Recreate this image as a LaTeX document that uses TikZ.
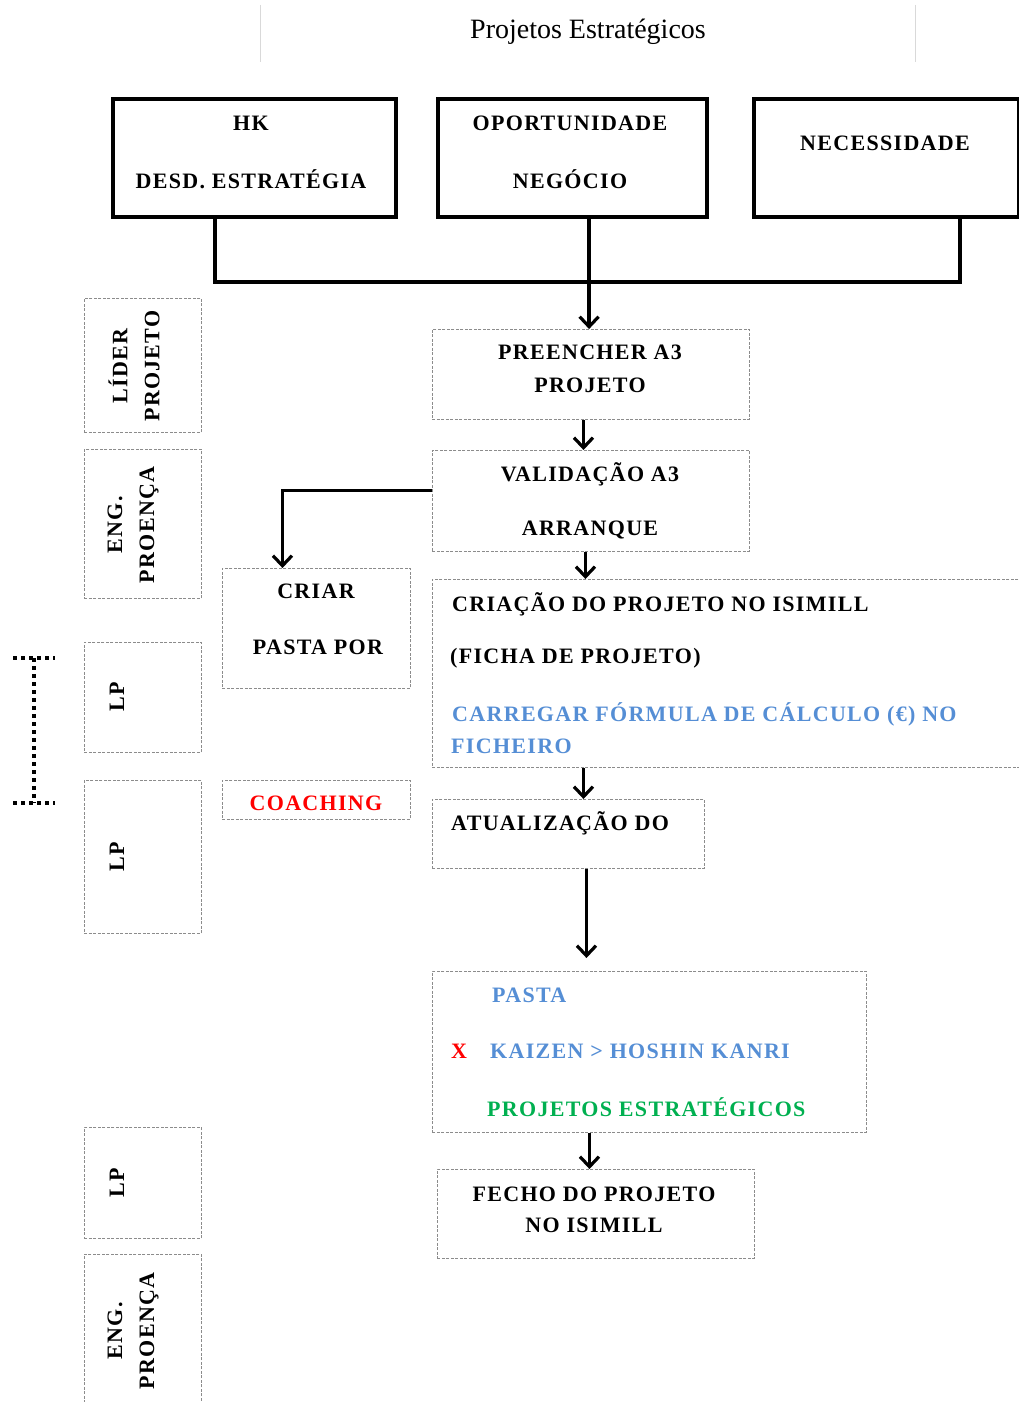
\documentclass[tikz,border=0pt]{standalone}
\usepackage{fontspec}
\setmainfont{Liberation Serif}
\newfontfamily\bxfont{Liberation Serif}[LetterSpace=6]
\usetikzlibrary{arrows.meta,calc}
\definecolor{myblue}{HTML}{558ED5}
\definecolor{mygreen}{HTML}{00B050}
\definecolor{myred}{HTML}{FF0000}
\tikzset{
  thickbox/.style={draw=black, line width=4.2pt, anchor=north west, inner sep=0pt},
  thinbox/.style={draw=black!45, line width=0.9pt, dash pattern=on 3pt off 1.5pt, anchor=north west, inner sep=0pt},
  txt/.style={font=\bxfont\bfseries\fontsize{22}{32}\selectfont, inner sep=0pt, text=black},
  rtxt/.style={txt, rotate=90, align=center},
  conn/.style={line width=3.6pt, draw=black},
  arr/.style={conn, -{Straight Barb[length=10pt,width=19pt,line width=3.2pt]}},
  sep/.style={draw=black!15, line width=1pt},
  dots/.style={line width=4pt, dash pattern=on 3.5pt off 4.5pt}
}
\begin{document}
\begin{tikzpicture}[x=1pt,y=-1pt]
\useasboundingbox (0,0) rectangle (1019,1402);
\fill[white] (0,0) rectangle (1019,1402);
% header
\draw[sep] (260,5) -- (260,62);
\draw[sep] (915,5) -- (915,62);
\node[font=\fontsize{28}{32}\selectfont, inner sep=0pt] (title) at (588,32) {Projetos Estratégicos};

% top thick boxes
\node[thickbox, minimum width=283pt, minimum height=118pt] (hk) at (111,97) {};
\node[thickbox, minimum width=269pt, minimum height=118pt] (oport) at (436,97) {};
\node[thickbox, minimum width=265pt, minimum height=118pt] (nec) at (752,97) {};
\node[txt] (hk1) at (251,123) {HK};
\node[txt] (hk2) at (251,179) {DESD. ESTRATÉGIA};
\node[txt] (op1) at (570,123) {OPORTUNIDADE};
\node[txt] (op2) at (570,179) {NEGÓCIO};
\node[txt] (nec1) at (885,143) {NECESSIDADE};

% left role boxes
\node[thinbox, minimum width=117pt, minimum height=134pt] (r1) at (84,298) {};
\node[thinbox, minimum width=117pt, minimum height=149pt] (r2) at (84,449) {};
\node[thinbox, minimum width=117pt, minimum height=110pt] (r3) at (84,642) {};
\node[thinbox, minimum width=117pt, minimum height=153pt] (r4) at (84,780) {};
\node[thinbox, minimum width=117pt, minimum height=111pt] (r5) at (84,1127) {};
\node[thinbox, minimum width=117pt, minimum height=160pt] (r6) at (84,1254) {};
\node[rtxt] (r1t) at (134,366) {LÍDER\\PROJETO};
\node[rtxt] (r2t) at (133,525) {ENG.\\PROENÇA};
\node[rtxt] (r3t) at (117,697) {LP};
\node[rtxt] (r4t) at (117,857) {LP};
\node[rtxt] (r5t) at (117,1183) {LP};
\node[rtxt] (r6t) at (133,1331) {ENG.\\PROENÇA};

% dotted bracket
\coordinate (bt1) at (13,658);
\coordinate (bt2) at (55,658);
\coordinate (bb1) at (13,803);
\coordinate (bb2) at (55,803);
\coordinate (btm) at (34,658);
\coordinate (bbm) at (34,803);
\draw[dots] (bt1) -- (bt2);
\draw[dots] (bb1) -- (bb2);
\draw[dots] (btm) -- (bbm);

% flow boxes
\node[thinbox, minimum width=317pt, minimum height=90pt] (pre) at (432,329) {};
\node[txt] (pre1) at (590,352) {PREENCHER A3};
\node[txt] (pre2) at (590,385) {PROJETO};

\node[thinbox, minimum width=317pt, minimum height=101pt] (val) at (432,450) {};
\node[txt] (val1) at (590,474) {VALIDAÇÃO A3};
\node[txt] (val2) at (590,530) {ARRANQUE};

\node[thinbox, minimum width=188pt, minimum height=120pt] (cri) at (222,568) {};
\node[txt] (cri1) at (316,591) {CRIAR};
\node[txt] (cri2) at (318,647) {PASTA POR};

\node[thinbox, minimum width=595pt, minimum height=188pt] (crp) at (432,579) {};
\node[txt, anchor=west] (crp1) at (452,604) {CRIAÇÃO DO PROJETO NO ISIMILL};
\node[txt, anchor=west] (crp2) at (450,658) {(FICHA DE PROJETO)};
\node[txt, anchor=west, text=myblue] (crp3) at (452,714) {CARREGAR FÓRMULA DE CÁLCULO (€) NO};
\node[txt, anchor=west, text=myblue] (crp4) at (451,746) {FICHEIRO};

\node[thinbox, minimum width=188pt, minimum height=39pt] (coa) at (222,780) {};
\node[txt, text=myred] (coa1) at (316,803) {COACHING};

\node[thinbox, minimum width=272pt, minimum height=69pt] (atu) at (432,799) {};
\node[txt, anchor=west] (atu1) at (451,823) {ATUALIZAÇÃO DO};

\node[thinbox, minimum width=434pt, minimum height=161pt] (pas) at (432,971) {};
\node[txt, anchor=west, text=myblue] (pas1) at (492,995) {PASTA};
\node[txt, text=myred] (pas2) at (459,1051) {X};
\node[txt, anchor=west, text=myblue] (pas3) at (490,1051) {KAIZEN > HOSHIN KANRI};
\node[txt, anchor=west, text=mygreen] (pas4) at (487,1107) {PROJETOS ESTRATÉGICOS};

\node[thinbox, minimum width=317pt, minimum height=89pt] (fec) at (437,1169) {};
\node[txt] (fec1) at (594,1194) {FECHO DO PROJETO};
\node[txt] (fec2) at (594,1225) {NO ISIMILL};

% connectors
\coordinate (bus) at (587,282);
\draw[conn] ([xshift=-39.5pt]hk.south) |- (bus) -| ([xshift=73.5pt]nec.south);
\draw[arr] ([xshift=16.5pt]oport.south) -- ([xshift=16.5pt]oport.south |- pre.north);
\draw[arr] ([xshift=-7.5pt]pre.south) -- ([xshift=-7.5pt]pre.south |- val.north);
\draw[arr] ([xshift=-5.5pt]val.south) -- ([xshift=-5.5pt]val.south |- crp.north);
\draw[arr] ([yshift=10.5pt]val.west) -| ([xshift=-34pt]cri.north);
\draw[arr] ([xshift=15pt]atu.north |- crp.south) -- ([xshift=15pt]atu.north);
\coordinate (pastop) at ([yshift=13pt]pas.north);
\draw[arr] ([xshift=18pt]atu.south) -- ([xshift=18pt]atu.south |- pastop);
\draw[arr] ([xshift=-60pt]pas.south) -- ([xshift=-60pt]pas.south |- fec.north);
\end{tikzpicture}
\end{document}
